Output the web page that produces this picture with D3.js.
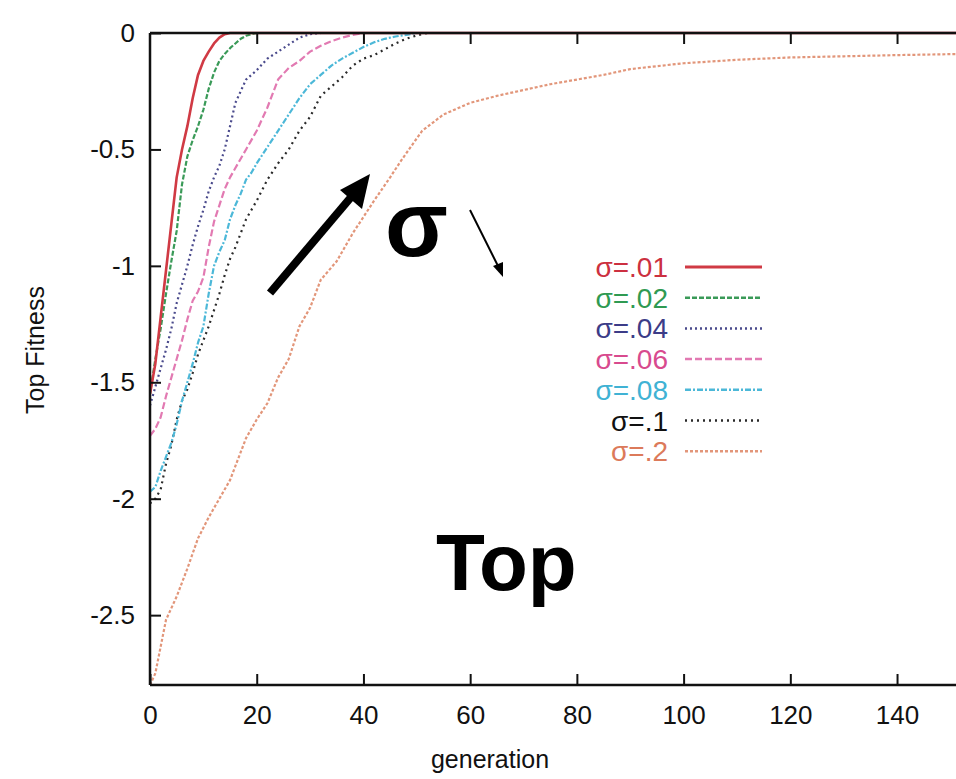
<!DOCTYPE html>
<html><head><meta charset="utf-8">
<script src="https://cdn.jsdelivr.net/npm/d3@7"></script>
<style>html,body{margin:0;padding:0;background:#fff;}svg{display:block;font-family:"Liberation Sans",Arial,sans-serif;}</style>
</head><body>
<svg id="c" width="956" height="779"></svg>
<script>
// ---- data ----
const legendLabels = ["σ=.01","σ=.02","σ=.04","σ=.06","σ=.08","σ=.1","σ=.2"];
const xTicks = [0,20,40,60,80,100,120,140];
const yTicks = [0,-0.5,-1,-1.5,-2,-2.5];
const yTickLabels = ["0","-0.5","-1","-1.5","-2","-2.5"];

const gen01 = [0,1,2,3,4,5,6,7,8,9,10,11,12,13,14,15,152];
const fit01 = [-1.55,-1.42,-1.22,-1.02,-0.82,-0.62,-0.50,-0.40,-0.28,-0.18,-0.12,-0.08,-0.045,-0.02,-0.005,0,0];

const gen02 = [0,1,2,3,4,5,6,7,8,9,10,11,12,13,14,15,16,17,18,19,20,152];
const fit02 = [-1.55,-1.40,-1.27,-1.12,-0.98,-0.85,-0.65,-0.53,-0.46,-0.40,-0.33,-0.24,-0.17,-0.12,-0.09,-0.065,-0.045,-0.025,-0.012,-0.005,0,0];

const gen04 = [0,1,2,3,4,5,6,7,8,9,10,11,12,13,14,15,16,17,18,19,20,22,24,26,28,30,32,152];
const fit04 = [-1.60,-1.52,-1.44,-1.36,-1.27,-1.16,-1.08,-1.00,-0.91,-0.83,-0.76,-0.68,-0.62,-0.57,-0.50,-0.40,-0.30,-0.25,-0.20,-0.18,-0.16,-0.11,-0.08,-0.05,-0.02,-0.005,0,0];

const gen06 = [0,1,2,3,4,5,6,7,8,9,10,11,12,13,14,15,16,17,18,19,20,22,24,26,28,30,32,34,36,38,40,152];
const fit06 = [-1.73,-1.70,-1.65,-1.56,-1.48,-1.40,-1.32,-1.23,-1.15,-1.11,-1.05,-0.92,-0.81,-0.74,-0.67,-0.62,-0.58,-0.54,-0.50,-0.46,-0.42,-0.32,-0.20,-0.15,-0.12,-0.08,-0.055,-0.035,-0.02,-0.008,0,0];

const gen08 = [0,1,2,3,4,5,6,7,8,9,10,11,12,13,14,15,16,17,18,19,20,22,24,26,28,30,32,34,36,38,40,42,44,46,48,50,152];
const fit08 = [-1.97,-1.95,-1.88,-1.82,-1.76,-1.68,-1.58,-1.50,-1.42,-1.33,-1.26,-1.12,-1.00,-0.94,-0.89,-0.80,-0.74,-0.69,-0.63,-0.60,-0.56,-0.49,-0.42,-0.35,-0.28,-0.22,-0.18,-0.14,-0.11,-0.085,-0.06,-0.04,-0.025,-0.015,-0.008,0,0];

const gen1 = [0,1,2,3,4,5,6,7,8,9,10,11,12,13,14,15,16,17,18,19,20,22,24,26,28,30,32,34,36,38,40,42,44,46,48,50,52,152];
const fit1 = [-2.02,-2.00,-1.96,-1.85,-1.77,-1.66,-1.58,-1.53,-1.46,-1.38,-1.32,-1.26,-1.19,-1.12,-1.04,-0.97,-0.92,-0.86,-0.80,-0.76,-0.72,-0.63,-0.56,-0.50,-0.42,-0.36,-0.27,-0.23,-0.19,-0.14,-0.11,-0.095,-0.07,-0.045,-0.025,-0.01,0,0];

const gen2 = [0,1,3,5,7,9,11,13,15,18,20,22,24,26,28,30,32,35,38,42,45,47,51,55,60,65,70,75,80,85,90,100,110,120,130,140,152];
const fit2 = [-2.80,-2.75,-2.52,-2.42,-2.30,-2.17,-2.08,-2.00,-1.92,-1.74,-1.66,-1.59,-1.48,-1.40,-1.26,-1.18,-1.06,-0.98,-0.86,-0.72,-0.62,-0.55,-0.42,-0.35,-0.30,-0.27,-0.245,-0.22,-0.20,-0.18,-0.155,-0.13,-0.115,-0.105,-0.10,-0.095,-0.09];

const seriesGens = [gen01,gen02,gen04,gen06,gen08,gen1,gen2];
const seriesFits = [fit01,fit02,fit04,fit06,fit08,fit1,fit2];
const lineColors = ["#d03a44","#3a9a58","#4a4a8c","#e27ab2","#4cb8d8","#2a2a2a","#e2967a"];
const textColors = ["#cc3040","#2f9a52","#3c3c88","#d84a8e","#40b2d4","#111111","#dc7a5a"];
const dashes = [null,"5,2","2,3","7,3","6,2,2,2","2,4","3,2"];

// ---- layout ----
const svg = d3.select("#c");
const L = 150, T = 33, B = 685, R = 956;
const x = d3.scaleLinear().domain([0,150]).range([L,950.4]);
const y = d3.scaleLinear().domain([-2.8,0]).range([B,T]);
const fontFam = "Liberation Sans, Arial, sans-serif";

svg.append("defs").append("clipPath").attr("id","clip")
  .append("rect").attr("x",L).attr("y",T-3).attr("width",R-L).attr("height",B-T+3);

// curves (draw orange first so red on top)
const line = d3.line().x(d=>x(d[0])).y(d=>y(d[1]));
const g = svg.append("g").attr("clip-path","url(#clip)");
for (let i = seriesGens.length-1; i >= 0; i--) {
  const pts = seriesGens[i].map((v,k)=>[v, seriesFits[i][k]]);
  const p = g.append("path").attr("d", line(pts)).attr("fill","none")
    .attr("stroke", lineColors[i]).attr("stroke-width", i===0?2.6:2.2)
    .attr("stroke-linejoin","round");
  if (dashes[i]) p.attr("stroke-dasharray", dashes[i]);
}

// frame
const axisCol = "#111";
svg.append("line").attr("x1",L).attr("x2",R).attr("y1",T).attr("y2",T).attr("stroke",axisCol).attr("stroke-width",2.5);
svg.append("line").attr("x1",L).attr("x2",R).attr("y1",B).attr("y2",B).attr("stroke",axisCol).attr("stroke-width",2.5);
svg.append("line").attr("x1",L).attr("x2",L).attr("y1",T).attr("y2",B).attr("stroke",axisCol).attr("stroke-width",2.5);

// axes with inside ticks
const xa = svg.append("g").attr("transform",`translate(0,${B})`)
  .call(d3.axisBottom(x).tickValues(xTicks).tickSize(-11).tickPadding(21).tickFormat(d3.format("d")));
xa.select(".domain").remove();
xa.selectAll("text").attr("font-size",26).attr("fill","#111").attr("font-family",fontFam);
xa.selectAll("line").attr("stroke",axisCol).attr("stroke-width",2);

const xt = svg.append("g").attr("transform",`translate(0,${T})`)
  .call(d3.axisTop(x).tickValues(xTicks.slice(1)).tickSize(-11).tickFormat(""));
xt.select(".domain").remove();
xt.selectAll("line").attr("stroke",axisCol).attr("stroke-width",2);

const ya = svg.append("g").attr("transform",`translate(${L},0)`)
  .call(d3.axisLeft(y).tickValues(yTicks).tickSize(-11).tickPadding(15).tickFormat((d,i)=>yTickLabels[i]));
ya.select(".domain").remove();
ya.selectAll("text").attr("font-size",26).attr("fill","#111").attr("font-family",fontFam);
ya.selectAll("line").attr("stroke",axisCol).attr("stroke-width",2);

// axis titles
svg.append("text").attr("x",490).attr("y",768).attr("text-anchor","middle")
  .attr("font-size",25).attr("fill","#111").text("generation");
svg.append("text").attr("transform","translate(44,350) rotate(-90)").attr("text-anchor","middle")
  .attr("font-size",25).attr("fill","#111").text("Top Fitness");

// legend
const legY0 = 267, legDy = 30.7;
legendLabels.forEach((lab,i)=>{
  const yy = legY0 + i*legDy;
  svg.append("text").attr("x",668).attr("y",yy).attr("dy","0.36em").attr("text-anchor","end")
    .attr("font-size",28).attr("fill",textColors[i]).text(lab);
  const ln = svg.append("line").attr("x1",685).attr("x2",762).attr("y1",yy).attr("y2",yy)
    .attr("stroke",lineColors[i]).attr("stroke-width",i===0?3:2.5);
  if (dashes[i]) ln.attr("stroke-dasharray",dashes[i]);
});

// annotations
svg.append("text").attr("x",385).attr("y",256).attr("font-size",92).attr("font-weight","bold")
  .attr("fill","#000").text("σ");
svg.append("text").attr("x",436).attr("y",590).attr("font-size",80).attr("font-weight","bold")
  .attr("fill","#000").text("Top");

// thick arrow
svg.append("line").attr("x1",270).attr("y1",293).attr("x2",352).attr("y2",196)
  .attr("stroke","#000").attr("stroke-width",8);
svg.append("path").attr("d","M370,174 L340,190 L362,209 Z").attr("fill","#000");
// thin arrow
svg.append("line").attr("x1",470).attr("y1",210).attr("x2",499).attr("y2",268)
  .attr("stroke","#000").attr("stroke-width",2);
svg.append("path").attr("d","M503,277 L493,266 L503,262 Z").attr("fill","#000");
</script>
</body></html>
